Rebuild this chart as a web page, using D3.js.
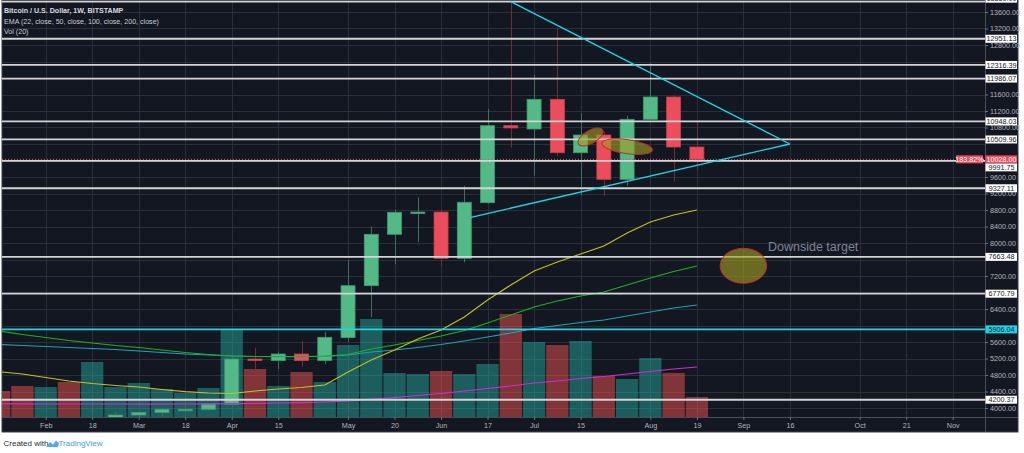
<!DOCTYPE html>
<html>
<head>
<meta charset="utf-8">
<style>
  html, body { margin: 0; padding: 0; background: #fff; }
  svg { display: block; font-family: "Liberation Sans", Arial, sans-serif; }
</style>
</head>
<body>
<svg width="1024" height="453"></svg>
<script src="https://d3js.org/d3.v7.min.js"></script>
<script>

// weekly candles (week start dates), Bitstamp BTC/USD
var weeks = ["2019-01-21","2019-01-28","2019-02-04","2019-02-11","2019-02-18","2019-02-25","2019-03-04","2019-03-11",
  "2019-03-18","2019-03-25","2019-04-01","2019-04-08","2019-04-15","2019-04-22","2019-04-29","2019-05-06",
  "2019-05-13","2019-05-20","2019-05-27","2019-06-03","2019-06-10","2019-06-17","2019-06-24","2019-07-01",
  "2019-07-08","2019-07-15","2019-07-22","2019-07-29","2019-08-05","2019-08-12","2019-08-19"];
var opens  = [3570,3530,3410,3650,3620,3760,3830,3890,3960,3969,4090,5188,5150,5309,5150,5705,6965,8211,8744,8750,7629,8977,10844,10764,11483,10189,10618,9544,10999,11540,10327];
var highs  = [3650,3580,3680,3720,4150,3900,3920,4000,4060,4120,5300,5462,5365,5624,5850,7588,8395,8800,9108,8800,9389,11249,13880,12073,13204,11144,10700,11090,12356,11580,10940];
var lows   = [3450,3370,3390,3580,3610,3700,3700,3800,3900,3940,4080,4945,4945,5000,5067,5600,6200,7484,8017,7443,7532,8950,10310,9632,10109,9150,9140,9382,10990,9486,9770];
var closes = [3530,3410,3650,3620,3760,3830,3890,3969,3969,4097,5188,5150,5309,5150,5714,6965,8211,8744,8750,7629,8987,10844,10790,11483,10189,10618,9544,10999,11540,10327,10028];
var volumes = [26,31,30,35,55,30,34,28,24,29,88,48,31,45,35,72,98,44,43,46,43,53,103,75,72,76,41,38,59,44,20];

// EMA (22, 50, 100, 200) on close, per week
var ema22  = [4880,4824,4740,4655,4594,4546,4510,4449,4396,4364,4352,4412,4461,4497,4558,4873,5164,5406,5673,5891,6206,6618,6982,7321,7540,7734,7927,8242,8509,8679,8800];
var ema50  = [5867,5782,5709,5636,5576,5515,5467,5406,5345,5297,5261,5248,5248,5248,5261,5297,5430,5527,5636,5745,5879,6061,6255,6448,6594,6715,6812,6982,7151,7309,7442];
var ema100 = [5539,5515,5491,5467,5442,5418,5382,5345,5309,5285,5261,5248,5244,5244,5248,5285,5358,5406,5467,5539,5624,5721,5818,5927,6000,6073,6133,6230,6327,6424,6497];
var ema200 = [4100,4100,4098,4097,4097,4096,4095,4095,4097,4100,4105,4112,4120,4130,4145,4170,4218,4255,4303,4352,4412,4473,4533,4606,4655,4715,4764,4824,4885,4945,4994];

// horizontal levels drawn on the chart
var levels = [13850, 12951.13, 12316.39, 11986.07, 10948.03, 10509.96, 9991.75, 9327.11, 7663.48, 6770.79, 4200.37];
var cyanLevel = 5906.04;
var lastPrice = 10028.00;
var lastChange = "183.82%";

// triangle trend lines
var upperLine = [["2019-06-24", 13850], ["2019-09-16", 10400]];
var lowerLine = [["2019-06-12", 8623], ["2019-09-16", 10400]];

// highlighted zones
var zones = [
  {date: "2019-07-18", price: 10570},
  {date: "2019-07-29", price: 10335},
  {date: "2019-09-02", price: 7447}
];

var priceTicks = d3.range(4000, 13601, 400);
var timeTicks = ["2019-02-04","2019-02-18","2019-03-04","2019-03-18","2019-04-01","2019-04-15","2019-05-06","2019-05-20",
  "2019-06-03","2019-06-17","2019-07-01","2019-07-15","2019-08-05","2019-08-19","2019-09-02","2019-09-16",
  "2019-10-07","2019-10-21","2019-11-04"];
var timeLabels = ["Feb","18","Mar","18","Apr","15","May","20","Jun","17","Jul","15","Aug","19","Sep","16","Oct","21","Nov"];

var parse = d3.utcParse("%Y-%m-%d");
var candles = weeks.map(function(w, i) {
  return {date: parse(w), o: opens[i], h: highs[i], l: lows[i], c: closes[i], v: volumes[i],
          e22: ema22[i], e50: ema50[i], e100: ema100[i], e200: ema200[i]};
});

var svg = d3.select("svg");
var plotL = 2, plotR = 985, plotB = 417, panelR = 1018, panelB = 432;

var x = d3.scaleUtc().domain([parse("2019-02-04"), parse("2019-11-04")]).range([45.7, 952.7]);
var y = d3.scaleLinear().domain([4000, 13600]).range([408, 12]);
var yVol = d3.scaleLinear().domain([0, 100]).range([plotB, plotB - 100]);

// panel background
svg.append("rect").attr("x", plotL).attr("y", 0).attr("width", panelR - plotL).attr("height", panelB)
  .attr("fill", "#131722").attr("stroke", "#3a3e4a").attr("stroke-width", 1);

svg.append("clipPath").attr("id", "plot")
  .append("rect").attr("x", plotL).attr("y", 0).attr("width", plotR - plotL).attr("height", plotB);
svg.append("clipPath").attr("id", "panel")
  .append("rect").attr("x", plotL).attr("y", 0).attr("width", panelR - plotL).attr("height", panelB);

var plot = svg.append("g").attr("clip-path", "url(#plot)");

// grid
plot.append("g").selectAll("line").data(priceTicks).enter().append("line")
  .attr("x1", plotL).attr("x2", plotR)
  .attr("y1", function(d) { return Math.round(y(d)) + 0.5; })
  .attr("y2", function(d) { return Math.round(y(d)) + 0.5; })
  .attr("stroke", "#2a2e39");
plot.append("g").selectAll("line").data(timeTicks).enter().append("line")
  .attr("x1", function(d) { return Math.round(x(parse(d))) + 0.5; })
  .attr("x2", function(d) { return Math.round(x(parse(d))) + 0.5; })
  .attr("y1", 0).attr("y2", plotB)
  .attr("stroke", "#2a2e39");

// volume
var weekW = x(parse("2019-02-11")) - x(parse("2019-02-04"));
plot.append("g").selectAll("rect").data(candles).enter().append("rect")
  .attr("x", function(d) { return x(d.date) - weekW / 2 + 0.5; })
  .attr("width", weekW - 1)
  .attr("y", function(d) { return yVol(d.v); })
  .attr("height", function(d) { return plotB - yVol(d.v); })
  .attr("fill", function(d) { return d.c >= d.o ? "#26a69a" : "#ef5350"; })
  .attr("fill-opacity", 0.5);

// candles
var cg = plot.append("g").selectAll("g").data(candles).enter().append("g");
cg.append("line")
  .attr("x1", function(d) { return Math.round(x(d.date)) + 0.5; })
  .attr("x2", function(d) { return Math.round(x(d.date)) + 0.5; })
  .attr("y1", function(d) { return y(d.h); })
  .attr("y2", function(d) { return y(d.l); })
  .attr("stroke", function(d) { return d.c >= d.o ? "#3f6e5a" : "#6b2f3a"; });
cg.append("rect")
  .attr("x", function(d) { return x(d.date) - 7; })
  .attr("width", 14)
  .attr("y", function(d) { return y(Math.max(d.o, d.c)); })
  .attr("height", function(d) { return Math.max(1.5, Math.abs(y(d.o) - y(d.c))); })
  .attr("fill", function(d) { return d.c >= d.o ? "#53b987" : "#eb4d5c"; })
  .attr("stroke", function(d) { return d.c >= d.o ? "#3f9a6e" : "#c9404e"; })
  .attr("stroke-width", 0.8);

// EMAs
var emaDefs = [["e200", "#d22bd0"], ["e100", "#1fa3b8"], ["e50", "#1db21d"], ["e22", "#c3c31c"]];
emaDefs.forEach(function(e) {
  plot.append("path").datum(candles)
    .attr("fill", "none").attr("stroke", e[1]).attr("stroke-width", 1.1)
    .attr("d", d3.line().x(function(d) { return x(d.date); }).y(function(d) { return y(d[e[0]]); }));
});

// last price dotted line
plot.append("line").attr("x1", plotL).attr("x2", plotR)
  .attr("y1", y(lastPrice)).attr("y2", y(lastPrice))
  .attr("stroke", "#eb4d5c").attr("stroke-dasharray", "1,2");

// horizontal levels
plot.append("g").selectAll("line").data(levels).enter().append("line")
  .attr("x1", plotL).attr("x2", plotR)
  .attr("y1", function(d) { return y(d); }).attr("y2", function(d) { return y(d); })
  .attr("stroke", "#d4d4d6").attr("stroke-width", 1.8);
plot.append("line").attr("x1", plotL).attr("x2", plotR)
  .attr("y1", y(cyanLevel)).attr("y2", y(cyanLevel))
  .attr("stroke", "#22d3e6").attr("stroke-width", 1.6);

// triangle
[upperLine, lowerLine].forEach(function(l) {
  plot.append("path").datum(l)
    .attr("fill", "none").attr("stroke", "#1fd6e6").attr("stroke-width", 1.3)
    .attr("d", d3.line().x(function(d) { return x(parse(d[0])); }).y(function(d) { return y(d[1]); }));
});

// zones
var zoneShape = [[14, 6.5, -30], [25.5, 7, 8], [23.3, 17.5, 0]];
plot.append("g").selectAll("ellipse").data(zones).enter().append("ellipse")
  .attr("transform", function(d, i) {
    return "translate(" + x(parse(d.date)) + "," + y(d.price) + ") rotate(" + zoneShape[i][2] + ")";
  })
  .attr("rx", function(d, i) { return zoneShape[i][0]; })
  .attr("ry", function(d, i) { return zoneShape[i][1]; })
  .attr("fill", "#a29e22").attr("fill-opacity", 0.62)
  .attr("stroke", "#c62828").attr("stroke-width", 1);

plot.append("text").attr("x", 768).attr("y", 250.5)
  .attr("font-size", 12.5).attr("fill", "#7d8596").text("Downside target");

// header
var head = svg.append("g").attr("font-size", 7.1).attr("fill", "#c9ccd4");
head.append("text").attr("x", 4).attr("y", 13).attr("font-weight", "bold").attr("fill", "#d6d9e0")
  .text("Bitcoin / U.S. Dollar, 1W, BITSTAMP");
head.append("text").attr("x", 4).attr("y", 23.5).text("EMA (22, close, 50, close, 100, close, 200, close)");
head.append("text").attr("x", 4).attr("y", 34).text("Vol (20)");

// price axis (tick labels fully hidden behind a level label are left out)
var labelShift = {"9991.75": 6.5, "13850.00": -3};
var labelYs = levels.concat([cyanLevel, lastPrice]).map(function(v) {
  return y(v) + (labelShift[v.toFixed(2)] || 0);
});
var shownTicks = priceTicks.filter(function(t) {
  return labelYs.every(function(ly) { return Math.abs(y(t) - ly) > 5; });
});
svg.append("line").attr("x1", plotR + 0.5).attr("x2", plotR + 0.5).attr("y1", 0).attr("y2", panelB)
  .attr("stroke", "#4a4e5a");
var yAxis = svg.append("g").attr("transform", "translate(" + plotR + ",0)")
  .call(d3.axisRight(y).tickValues(shownTicks).tickSize(3).tickPadding(2).tickFormat(d3.format(".2f")));
yAxis.select(".domain").remove();
yAxis.selectAll("line").attr("stroke", "#6a6e7a");
yAxis.selectAll("text").attr("fill", "#b2b5be").attr("font-size", 7.2)
  .attr("font-family", "Liberation Sans, Arial, sans-serif");

// time axis
svg.append("line").attr("x1", plotL).attr("x2", panelR).attr("y1", plotB + 0.5).attr("y2", plotB + 0.5)
  .attr("stroke", "#4a4e5a");
var xAxis = svg.append("g").attr("transform", "translate(0," + plotB + ")")
  .call(d3.axisBottom(x).tickValues(timeTicks.map(parse)).tickSize(3).tickPadding(3)
    .tickFormat(function(d, i) { return timeLabels[i]; }));
xAxis.select(".domain").remove();
xAxis.selectAll("line").attr("stroke", "#6a6e7a");
xAxis.selectAll("text").attr("fill", "#b2b5be").attr("font-size", 7.2)
  .attr("font-family", "Liberation Sans, Arial, sans-serif");

// level labels on the axis
var lab = svg.append("g").attr("font-size", 7.2).attr("text-anchor", "middle").attr("clip-path", "url(#panel)");
levels.concat([cyanLevel]).forEach(function(v) {
  var cy = y(v) + (labelShift[v.toFixed(2)] || 0);
  var isCyan = v === cyanLevel;
  lab.append("rect").attr("x", plotR + 0.5).attr("y", cy - 4).attr("width", 31.5).attr("height", 8)
    .attr("fill", isCyan ? "#22d3e6" : "#ffffff");
  lab.append("text").attr("x", plotR + 16.5).attr("y", cy + 2.6)
    .attr("fill", "#131722").text(v.toFixed(2));
});
// last price label
var ly = y(lastPrice);
lab.append("rect").attr("x", plotR + 0.5).attr("y", ly - 4).attr("width", 31.5).attr("height", 8).attr("fill", "#eb4d5c");
lab.append("text").attr("x", plotR + 16.5).attr("y", ly + 2.6).attr("fill", "#ffffff").text(lastPrice.toFixed(2));
lab.append("rect").attr("x", 956).attr("y", ly - 4).attr("width", 27).attr("height", 8).attr("fill", "#eb4d5c");
lab.append("text").attr("x", 969.5).attr("y", ly + 2.6).attr("fill", "#ffffff").text(lastChange);

// footer
var foot = svg.append("g").attr("font-size", 8);
foot.append("text").attr("x", 3.5).attr("y", 446).attr("fill", "#2a2e39").text("Created with");
foot.append("path")
  .attr("d", "M46,447 L50,442 L53,444.5 L56,440.5 L59,443 L58,447 Z")
  .attr("fill", "#58a9e8");
foot.append("text").attr("x", 58.5).attr("y", 446).attr("fill", "#3c9be8").text("TradingView");

</script>
</body>
</html>
